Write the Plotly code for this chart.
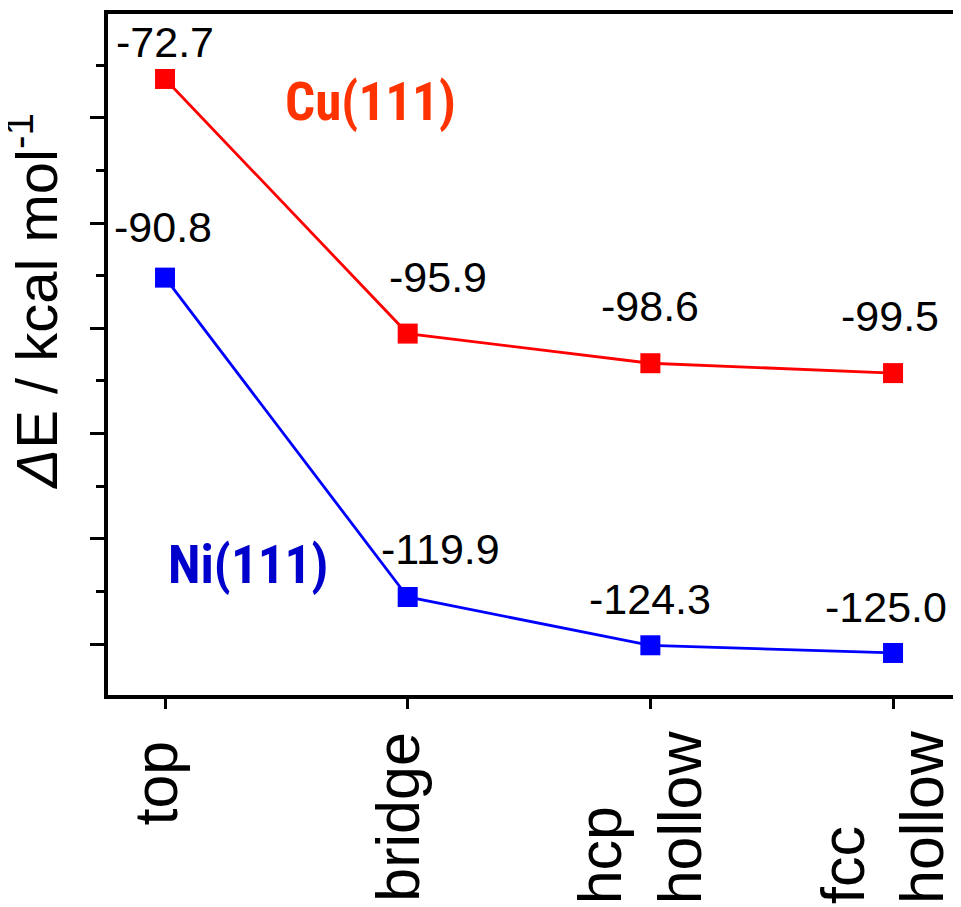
import plotly.graph_objects as go

# ---- data ----
sites = ["top", "bridge", "hcp<br>hollow", "fcc<br>hollow"]
cu_energy = [-72.7, -95.9, -98.6, -99.5]
ni_energy = [-90.8, -119.9, -124.3, -125.0]
cu_name = "Cu(111)"
ni_name = "Ni(111)"
y_title = "<i>Δ</i>E / kcal mol<sup>-1</sup>"

# ---- style ----
CU_LINE = "#FF0000"
NI_LINE = "#0000FF"
CU_TEXT = "#FF3300"
NI_TEXT = "#0000CC"
FONT = "Liberation Sans, Arial, sans-serif"
NARROW = "Roboto Condensed, Noto Sans Condensed, Roboto, sans-serif"

cu_label_shift = [(0, 37), (30, 57), (0, 57), (-3, 57)]
ni_label_shift = [(-2, 51), (33, 48), (0, 46), (-7, 46)]
# pixel offsets of the rotated category labels (x shift, gap below axis)
site_label_shift = [(-10, 45), (-10, 36), (-11, 34), (-11, 34)]

fig = go.Figure()
for vals, col in ((cu_energy, CU_LINE), (ni_energy, NI_LINE)):
    fig.add_trace(go.Scatter(
        x=sites, y=vals, mode="lines+markers",
        line=dict(color=col, width=2.8),
        marker=dict(symbol="square", size=20, color=col),
        showlegend=False, cliponaxis=False,
    ))

for vals, shifts in ((cu_energy, cu_label_shift), (ni_energy, ni_label_shift)):
    for s, v, (dx, dy) in zip(sites, vals, shifts):
        fig.add_annotation(x=s, y=v, text=f"{v:.1f}", showarrow=False,
                           xshift=dx, yshift=dy,
                           font=dict(family=FONT, size=43, color="black"))

# rotated category labels (multi-line labels start-aligned like the original)
for s, (dx, gap) in zip(sites, site_label_shift):
    fig.add_annotation(x=s, y=0, xref="x", yref="paper", text=s, showarrow=False,
                       textangle=-90, align="left", xanchor="center", yanchor="top",
                       xshift=dx, yshift=-gap, borderpad=0,
                       font=dict(family=FONT, size=61, color="black"))

fig.add_annotation(x=0.845, y=-74.8, xref="x", yref="y", text=f"<b>{cu_name}</b>",
                   showarrow=False, font=dict(family=NARROW, size=53, color=CU_TEXT))
fig.add_annotation(x=0.342, y=-117.0, xref="x", yref="y", text=f"<b>{ni_name}</b>",
                   showarrow=False, font=dict(family=NARROW, size=53, color=NI_TEXT))

fig.add_annotation(x=-0.0879, y=0.578, xref="paper", yref="paper", text=y_title,
                   textangle=-90, showarrow=False, xanchor="center", yanchor="middle",
                   font=dict(family=FONT, size=58, color="black"))

fig.update_layout(
    width=961, height=907,
    margin=dict(l=100, r=0, t=6, b=220, autoexpand=False),
    paper_bgcolor="white", plot_bgcolor="white",
    font=dict(family=FONT, color="black"),
)
fig.update_xaxes(
    type="category", range=[-0.235, 3.313], automargin=False,
    showline=True, linecolor="black", linewidth=4, mirror=True,
    ticks="outside", ticklen=10, tickwidth=3, tickcolor="black",
    showticklabels=False,
    showgrid=False, zeroline=False,
)
fig.update_yaxes(
    range=[-128.83, -66.78], automargin=False,
    showline=True, linecolor="black", linewidth=4, mirror=False,
    ticks="outside", ticklen=14, tickwidth=3, tickcolor="black",
    tick0=-76.23, dtick=9.594, showticklabels=False,
    minor=dict(ticks="outside", ticklen=8, tickwidth=3, tickcolor="black",
               tick0=-76.23, dtick=4.797, showgrid=False),
    showgrid=False, zeroline=False,
)

fig.write_html("out.html")
